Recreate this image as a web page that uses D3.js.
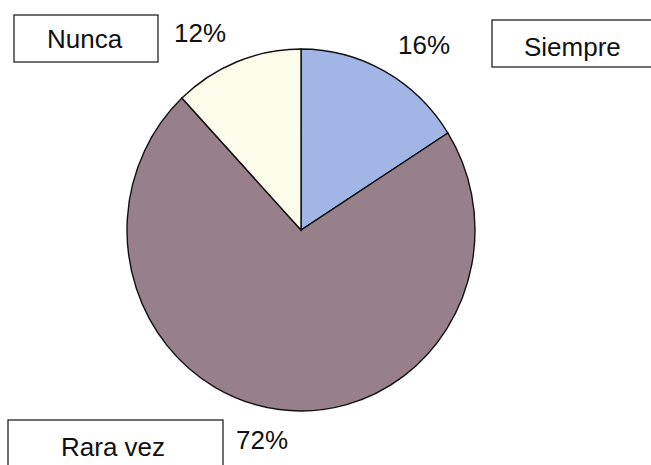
<!DOCTYPE html>
<html>
<head>
<meta charset="utf-8">
<script src="https://cdn.jsdelivr.net/npm/d3@7"></script>
<style>
  html, body { margin: 0; padding: 0; background: #fff; }
  svg { display: block; }
  text { font-family: "Liberation Sans", Arial, sans-serif; fill: #111; }
</style>
</head>
<body>
<main></main>
<script>
const categories = ["Siempre", "Rara vez", "Nunca"];
const values = [16, 72, 12];
const pctLabels = ["16%", "72%", "12%"];
const colors = ["#a2b6e6", "#978089", "#fcfcea"];

const w = 651,
  h = 465,
  cx = 301,
  cy = 230,
  r = 174;

// where each category's box, name and percent sit (layout only)
const boxes = {
  "Siempre":  {x: 492, y: 20,  w: 180, h: 47, tx: 524, ty: 56,  pctX: 398, pctY: 54},
  "Rara vez": {x: 8,   y: 420, w: 215, h: 60, tx: 61,  ty: 456, pctX: 236, pctY: 449},
  "Nunca":    {x: 14,  y: 15,  w: 144, h: 47, tx: 47,  ty: 48,  pctX: 174, pctY: 42}
};

const svg = d3.select("main")
  .append("svg")
  .attr("width", w)
  .attr("height", h);

const pie = d3.pie().sort(null).value((d) => d.value);
const arc = d3.arc().innerRadius(0).outerRadius(r);

const data = categories.map((c, i) => ({name: c, value: values[i], color: colors[i], pct: pctLabels[i]}));

svg.append("g")
  .attr("transform", "translate(" + cx + "," + cy + ") scale(1,1.04)")
  .selectAll("path")
  .data(pie(data))
  .enter()
  .append("path")
  .attr("d", arc)
  .attr("fill", (d) => d.data.color)
  .attr("stroke", "#111")
  .attr("stroke-width", 1.4)
  .attr("vector-effect", "non-scaling-stroke");

const lab = svg.selectAll("g.lab")
  .data(data)
  .enter()
  .append("g")
  .attr("class", "lab");

lab.append("rect")
  .attr("x", (d) => boxes[d.name].x)
  .attr("y", (d) => boxes[d.name].y)
  .attr("width", (d) => boxes[d.name].w)
  .attr("height", (d) => boxes[d.name].h)
  .attr("fill", "#fff")
  .attr("stroke", "#222")
  .attr("stroke-width", 1.3);

lab.append("text")
  .attr("x", (d) => boxes[d.name].tx)
  .attr("y", (d) => boxes[d.name].ty)
  .style("font-size", "26px")
  .text((d) => d.name);

lab.append("text")
  .attr("x", (d) => boxes[d.name].pctX)
  .attr("y", (d) => boxes[d.name].pctY)
  .style("font-size", "26px")
  .text((d) => d.pct);
</script>
</body>
</html>
